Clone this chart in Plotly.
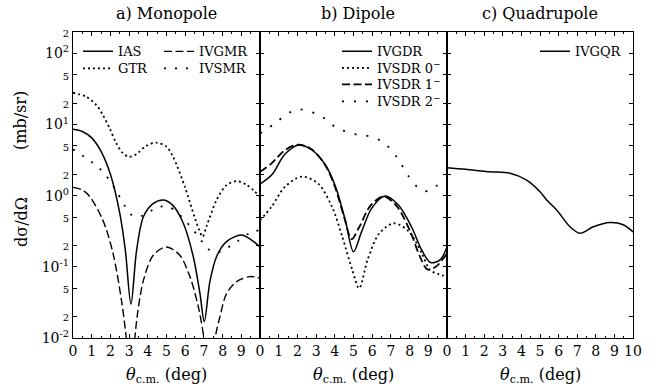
import math
import plotly.graph_objects as go

# ---------------- data (dσ/dΩ in mb/sr vs θ_c.m. in degrees) ----------------
# a) Monopole
ias_theta = [0, 0.5, 1.0, 1.5, 2.0, 2.5, 2.8, 3.1, 3.4, 3.77, 4.3, 4.85, 5.36, 5.9, 6.43, 6.79, 7.02, 7.32, 7.68, 8.21, 9.0, 9.55, 10]
ias_xs = [8.6, 8.0, 6.5, 4.2, 2.0, 0.57, 0.17, 0.03, 0.17, 0.51, 0.78, 0.87, 0.72, 0.41, 0.14, 0.042, 0.017, 0.062, 0.14, 0.226, 0.28, 0.238, 0.19]

gtr_theta = [0, 0.7, 1.25, 1.6, 1.96, 2.32, 2.67, 3.0, 3.4, 3.9, 4.45, 5.0, 5.35, 5.98, 6.5, 6.75, 6.93, 7.14, 7.68, 8.21, 8.75, 9.3, 10]
gtr_xs = [28, 24.6, 18.8, 13.6, 8.85, 5.45, 3.95, 3.53, 3.85, 5.0, 5.56, 4.9, 3.53, 1.34, 0.5, 0.33, 0.265, 0.37, 0.87, 1.41, 1.6, 1.41, 0.97]

ivgmr_theta = [0, 0.5, 0.9, 1.6, 2.14, 2.59, 2.85, 3.1, 3.3, 3.45, 3.77, 4.3, 5.0, 5.7, 6.25, 6.7, 7.0, 7.3, 7.6, 7.86, 8.21, 8.75, 9.47, 10]
ivgmr_xs = [1.31, 1.2, 0.97, 0.45, 0.155, 0.034, 0.01, 0.002, 0.0095, 0.022, 0.065, 0.147, 0.19, 0.147, 0.073, 0.0275, 0.01, 0.002, 0.01, 0.02, 0.042, 0.062, 0.073, 0.069]

ivsmr_theta = [0, 0.98, 1.6, 2.23, 2.77, 3.12, 3.66, 4.2, 4.64, 5.18, 5.9, 6.34, 6.7, 6.97, 7.3, 7.86, 8.4, 8.84, 9.47, 10]
ivsmr_xs = [4.5, 3.0, 2.17, 1.27, 0.72, 0.54, 0.52, 0.62, 0.70, 0.685, 0.48, 0.35, 0.27, 0.214, 0.173, 0.163, 0.196, 0.233, 0.3, 0.33]

# b) Dipole
ivgdr_theta = [0, 0.62, 1.34, 2.07, 2.78, 3.5, 4.04, 4.56, 5.0, 5.43, 5.97, 6.68, 7.4, 8.1, 8.65, 9.12, 9.63, 10]
ivgdr_xs = [1.46, 1.95, 3.85, 5.16, 4.39, 2.7, 1.34, 0.455, 0.163, 0.31, 0.665, 0.99, 0.74, 0.366, 0.172, 0.115, 0.125, 0.19]

ivsdr0_theta = [0, 0.62, 1.34, 2.23, 3.1, 3.85, 4.4, 4.94, 5.3, 5.75, 6.38, 7.18, 7.98, 8.65, 9.1, 9.55, 10]
ivsdr0_xs = [0.45, 0.70, 1.34, 1.85, 1.49, 0.70, 0.265, 0.09, 0.05, 0.125, 0.296, 0.41, 0.31, 0.155, 0.09, 0.079, 0.073]

ivsdr1_theta = [0, 0.62, 1.34, 2.0, 2.7, 3.45, 4.0, 4.5, 4.9, 5.3, 5.9, 6.6, 7.3, 8.0, 8.55, 8.95, 9.4, 10]
ivsdr1_xs = [2.17, 2.85, 4.39, 5.2, 4.6, 2.8, 1.35, 0.5, 0.245, 0.36, 0.72, 0.98, 0.72, 0.33, 0.14, 0.092, 0.1, 0.155]

ivsdr2_theta = [0, 0.8, 1.5, 2.14, 3.3, 4.1, 5.08, 5.6, 6.56, 7.36, 7.9, 8.6, 9.05, 9.5, 10]
ivsdr2_xs = [7.5, 10.4, 14.4, 16.4, 12.9, 9.0, 7.36, 7.1, 5.74, 3.36, 1.95, 1.2, 1.17, 1.41, 1.6]

# c) Quadrupole
ivgqr_theta = [0, 1.0, 2.3, 3.39, 4.28, 5.0, 5.36, 5.9, 6.61, 7.15, 7.87, 8.76, 9.48, 10]
ivgqr_xs = [2.47, 2.35, 2.17, 2.07, 1.66, 1.14, 0.87, 0.63, 0.366, 0.296, 0.366, 0.42, 0.39, 0.31]

panel_titles = ["a) Monopole", "b) Dipole", "c) Quadrupole"]
y_tickvals = [0.01, 0.02, 0.05, 0.1, 0.2, 0.5, 1, 2, 5, 10, 20, 50, 100, 200]
y_ticktext_raw = ["10^-2", "2", "5", "10^-1", "2", "5", "10^0", "2", "5", "10^1", "2", "5", "10^2", "2"]

# ---------------- geometry helpers (pixel -> paper) ----------------
W, H = 666, 392
L, R, T, B = 73, 33, 32, 54
PW, PH = W - L - R, H - T - B


def px(x):
    return (x - L) / PW


def py(y):
    return (H - B - y) / PH


FONT = "DejaVu Serif"
DENSE_DOT = "2px,3px"
SPARSE_DOT = "2px,9px"
LONG_DASH = "8px,3.5px"

fig = go.Figure()


def add_curve(x, y, name, dash, width, panel, legend):
    suffix = "" if panel == 1 else str(panel)
    fig.add_trace(go.Scatter(
        x=x, y=y, name=name, mode="lines",
        line=dict(color="black", width=width, dash=dash, shape="spline", smoothing=0.9),
        xaxis="x" + suffix, yaxis="y" + suffix, legend=legend,
        hoverinfo="skip",
    ))


add_curve(ias_theta, ias_xs, "IAS", "solid", 1.5, 1, "legend")
add_curve(gtr_theta, gtr_xs, "GTR", DENSE_DOT, 1.8, 1, "legend2")
add_curve(ivgmr_theta, ivgmr_xs, "IVGMR", LONG_DASH, 1.4, 1, "legend3")
add_curve(ivsmr_theta, ivsmr_xs, "IVSMR", SPARSE_DOT, 1.8, 1, "legend4")

add_curve(ivgdr_theta, ivgdr_xs, "IVGDR", "solid", 1.5, 2, "legend5")
add_curve(ivsdr0_theta, ivsdr0_xs, "IVSDR 0<sup>−</sup>", DENSE_DOT, 1.8, 2, "legend6")
add_curve(ivsdr1_theta, ivsdr1_xs, "IVSDR 1<sup>−</sup>", LONG_DASH, 1.8, 2, "legend7")
add_curve(ivsdr2_theta, ivsdr2_xs, "IVSDR 2<sup>−</sup>", "2px,10px", 1.8, 2, "legend8")

add_curve(ivgqr_theta, ivgqr_xs, "IVGQR", "solid", 1.5, 3, "legend9")


def fmt_tick(t):
    if "^" in t:
        base, exp = t.split("^")
        return f"{base}<sup>{exp}</sup>"
    return f'<span style="font-size:10px">{t}</span>'


y_ticktext = [fmt_tick(t) for t in y_ticktext_raw]

edges = [73, 260, 447, 633]
axis_common = dict(
    showline=True, linecolor="black", linewidth=1.3, mirror="allticks",
    ticks="inside", ticklen=4, tickwidth=1, tickcolor="black",
    showgrid=False, zeroline=False,
    tickfont=dict(family=FONT, size=14, color="black"),
)

layout = dict(
    width=W, height=H,
    margin=dict(l=L, r=R, t=T, b=B),
    paper_bgcolor="white", plot_bgcolor="white",
    font=dict(family=FONT, color="black"),
    showlegend=True,
)

for i in range(3):
    suffix = "" if i == 0 else str(i + 1)
    xt = list(range(0, 11)) if i == 2 else list(range(0, 10))
    layout["xaxis" + suffix] = dict(
        axis_common,
        domain=[px(edges[i]), px(edges[i + 1])],
        range=[0, 10], tickmode="array", tickvals=xt, ticktext=[str(v) for v in xt],
        anchor="y" + suffix,
        minor=dict(ticks="inside", ticklen=2, tickmode="linear", tick0=0.5, dtick=1, tickcolor="black"),
    )
    yax = dict(
        axis_common,
        type="log", range=[-2, math.log10(200)],
        tickmode="array", tickvals=y_tickvals, ticktext=y_ticktext,
        anchor="x" + suffix, domain=[0, 1],
    )
    if i > 0:
        yax["showticklabels"] = False
        yax["matches"] = "y"
    layout["yaxis" + suffix] = yax

# one legend box per entry so that each sample sits where it belongs
legend_pos = {
    "legend": (78, 52), "legend2": (78, 69), "legend3": (159, 52), "legend4": (159, 69),
    "legend5": (337, 52), "legend6": (337, 68.5), "legend7": (337, 85), "legend8": (337, 102),
    "legend9": (535, 52),
}
for key, (lx, ly) in legend_pos.items():
    layout[key] = dict(
        x=px(lx), y=py(ly - 15.6), xanchor="left", yanchor="top",
        bgcolor="rgba(0,0,0,0)", borderwidth=0,
        font=dict(family=FONT, size=13, color="black"),
        itemwidth=30,
    )

annotations = []
for i, title in enumerate(panel_titles):
    cx = (edges[i] + edges[i + 1]) / 2
    annotations.append(dict(
        text=title, x=px(cx + (4 if i == 1 else 0)), y=py(14), xref="paper", yref="paper",
        showarrow=False, font=dict(family=FONT, size=16, color="black"),
        xanchor="center", yanchor="middle",
    ))
    annotations.append(dict(
        text="<i>θ</i><sub>c.m.</sub> (deg)", x=px(cx), y=py(375), xref="paper", yref="paper",
        showarrow=False, font=dict(family=FONT, size=16, color="black"),
        xanchor="center", yanchor="middle",
    ))

annotations.append(dict(
    text="(mb/sr)", x=px(21), y=py(121), xref="paper", yref="paper", textangle=-90,
    showarrow=False, font=dict(family=FONT, size=16, color="black"),
    xanchor="center", yanchor="middle",
))
annotations.append(dict(
    text="dσ/dΩ", x=px(21), y=py(222), xref="paper", yref="paper", textangle=-90,
    showarrow=False, font=dict(family=FONT, size=16, color="black"),
    xanchor="center", yanchor="middle",
))
layout["annotations"] = annotations

fig.update_layout(**layout)
fig.write_html("out.html")
